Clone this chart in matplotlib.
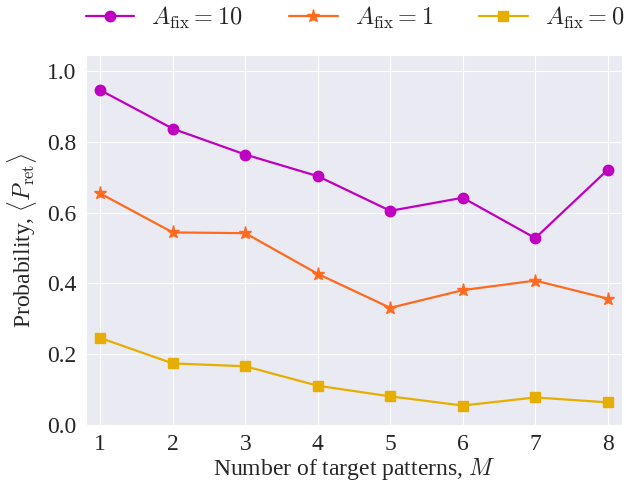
import numpy as np
import matplotlib
matplotlib.use('Agg')
import matplotlib.pyplot as plt
import seaborn as sns

# data
M = [1, 2, 3, 4, 5, 6, 7, 8]
p_fix10 = [0.946, 0.837, 0.764, 0.703, 0.605, 0.642, 0.528, 0.721]
p_fix1 = [0.654, 0.544, 0.542, 0.427, 0.331, 0.381, 0.408, 0.357]
p_fix0 = [0.246, 0.174, 0.166, 0.111, 0.081, 0.055, 0.078, 0.064]
labels = [r'$A_{\rm fix} = 10$', r'$A_{\rm fix} = 1$', r'$A_{\rm fix} = 0$']

sns.set_style('darkgrid')
plt.rcParams['font.family'] = ['Liberation Serif', 'DejaVu Serif']
plt.rcParams['mathtext.fontset'] = 'cm'

fig = plt.figure(figsize=(6.26, 4.83), dpi=100)
ax = fig.add_axes([0.137, 0.12, 0.857, 0.766])

ax.plot(M, p_fix10, color='#C000C0', marker='o', markersize=7.5, lw=1.6, label=labels[0])
ax.plot(M, p_fix1, color='#FF6A1F', marker='*', markersize=9.5, lw=1.6, label=labels[1])
ax.plot(M, p_fix0, color='#E6AE00', marker='s', markersize=7, lw=1.6, label=labels[2])

ax.set_xlim(0.8, 8.2)
ax.set_ylim(0, 1.045)
ax.set_xticks(M)
ax.set_yticks([0.0, 0.2, 0.4, 0.6, 0.8, 1.0])
ax.tick_params(labelsize=17, pad=3)

ax.set_xlabel(r'Number of target patterns, $M$', fontsize=17, labelpad=1)
ax.set_ylabel(r'Probability, $\langle P_{\rm ret}\rangle$', fontsize=17, labelpad=6)

fig.legend(loc='center', bbox_to_anchor=(0.567, 0.963), ncol=3, frameon=False,
           fontsize=17.5, handlelength=2.0, handletextpad=0.7, columnspacing=1.9,
           borderpad=0, borderaxespad=0)

fig.savefig('out.png', dpi=100)
